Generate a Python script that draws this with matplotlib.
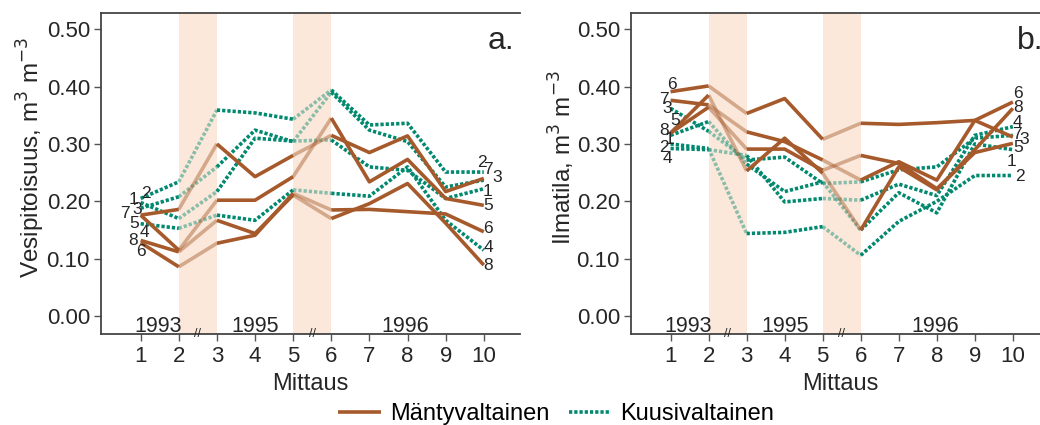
import matplotlib.pyplot as plt
import numpy as np

plt.rcParams['font.family'] = ['Liberation Sans', 'DejaVu Sans']

mittaus = np.arange(1, 11)
gaps = [(2, 3), (5, 6)]
years = ['1993', '1995', '1996']
year_x = [1.45, 4.0, 7.95]

# a. Vesipitoisuus (water content), by site
a_manty = {
    '7': [0.176, 0.186, 0.300, 0.243, 0.280, 0.315, 0.285, 0.314, 0.217, 0.240],
    '5': [0.176, 0.115, 0.202, 0.202, 0.243, 0.345, 0.234, 0.273, 0.205, 0.193],
    '6': [0.128, 0.086, 0.127, 0.141, 0.214, 0.185, 0.186, 0.182, 0.178, 0.147],
    '8': [0.132, 0.112, 0.167, 0.144, 0.211, 0.170, 0.196, 0.231, 0.162, 0.089],
}
a_kuusi = {
    '2': [0.205, 0.234, 0.359, 0.354, 0.343, 0.394, 0.333, 0.336, 0.251, 0.251],
    '3': [0.188, 0.208, 0.260, 0.324, 0.304, 0.390, 0.324, 0.304, 0.225, 0.237],
    '1': [0.198, 0.170, 0.217, 0.310, 0.305, 0.307, 0.260, 0.254, 0.205, 0.222],
    '4': [0.161, 0.153, 0.176, 0.167, 0.220, 0.214, 0.209, 0.260, 0.167, 0.115],
}

# b. Ilmatila (air-filled porosity), by site
b_manty = {
    '6': [0.391, 0.401, 0.353, 0.379, 0.308, 0.336, 0.334, 0.337, 0.341, 0.373],
    '7': [0.376, 0.368, 0.321, 0.304, 0.272, 0.237, 0.269, 0.237, 0.341, 0.312],
    '5': [0.319, 0.364, 0.291, 0.291, 0.254, 0.280, 0.266, 0.222, 0.285, 0.301],
    '8': [0.319, 0.385, 0.253, 0.310, 0.249, 0.150, 0.260, 0.220, 0.290, 0.362],
}
b_kuusi = {
    '3': [0.362, 0.322, 0.272, 0.277, 0.231, 0.234, 0.255, 0.260, 0.310, 0.315],
    '4': [0.292, 0.290, 0.280, 0.199, 0.205, 0.202, 0.230, 0.210, 0.315, 0.330],
    '1': [0.315, 0.339, 0.265, 0.217, 0.234, 0.150, 0.215, 0.180, 0.300, 0.290],
    '2': [0.300, 0.292, 0.144, 0.146, 0.156, 0.106, 0.165, 0.200, 0.245, 0.245],
}

# site number labels at line ends (label, x, y)
a_labels = [('1', 0.82, 0.204), ('2', 1.13, 0.214), ('7', 0.58, 0.178), ('3', 0.90, 0.185),
            ('5', 0.82, 0.162), ('4', 1.10, 0.146), ('8', 0.79, 0.132), ('6', 1.0, 0.113),
            ('2', 9.96, 0.267), ('7', 10.11, 0.256), ('3', 10.35, 0.242), ('1', 10.11, 0.218),
            ('5', 10.11, 0.192), ('6', 10.11, 0.152), ('4', 10.11, 0.120), ('8', 10.11, 0.089)]
b_labels = [('6', 1.03, 0.404), ('7', 0.82, 0.378), ('3', 0.92, 0.361), ('5', 1.13, 0.340),
            ('8', 0.82, 0.324), ('1', 0.97, 0.307), ('2', 0.82, 0.293), ('4', 0.92, 0.274),
            ('6', 10.13, 0.387), ('8', 10.13, 0.364), ('4', 10.13, 0.338), ('7', 10.10, 0.317),
            ('3', 10.31, 0.307), ('5', 10.13, 0.293), ('1', 9.97, 0.270), ('2', 10.18, 0.244)]

BROWN = '#a65a2b'
GREEN = '#00896f'
SHADE = '#fbe8da'
TXT = '#262626'
SOLID = dict(lw=2.6, ls='-', solid_capstyle='butt')
DOTTED = dict(lw=2.6, ls=(0, (0.9, 0.55)))


def draw_series(ax, y, color, style):
    y = np.asarray(y)
    # dark within a year, faded across the gaps between years
    for i0, i1 in [(0, 2), (2, 5), (5, 10)]:
        ax.plot(mittaus[i0:i1], y[i0:i1], color=color, zorder=3, **style)
    for g0, g1 in gaps:
        ax.plot(mittaus[g0 - 1:g1], y[g0 - 1:g1], color=color, alpha=0.45, zorder=2, **style)


def panel(ax, manty, kuusi, labels, ylabel, tag):
    for g0, g1 in gaps:
        ax.axvspan(g0, g1, color=SHADE, lw=0, zorder=0)
    for y in kuusi.values():
        draw_series(ax, y, GREEN, DOTTED)
    for y in manty.values():
        draw_series(ax, y, BROWN, SOLID)
    for lab, x, y in labels:
        ax.text(x, y, lab, fontsize=12.5, color=TXT, ha='center', va='center', zorder=4)
    for yr, x in zip(years, year_x):
        ax.text(x, -0.027, yr, fontsize=15.5, color=TXT, ha='center', va='baseline')
    for g0, g1 in gaps:
        ax.text((g0 + g1) / 2, -0.031, '//', fontsize=9, color=TXT, ha='center', va='center')
    ax.text(10.45, 0.48, tag, fontsize=23, color=TXT, ha='center', va='center')

    ax.set_xlim(-0.04, 10.95)
    ax.set_ylim(-0.031, 0.528)
    ax.set_xticks(mittaus)
    ax.set_yticks(np.arange(0, 0.51, 0.1))
    ax.set_yticklabels([f'{v:.2f}' for v in np.arange(0, 0.51, 0.1)])
    ax.tick_params(labelsize=16, length=5, width=1, pad=3, colors='#555555', labelcolor=TXT)
    ax.tick_params(axis='x', pad=4)
    ax.spines['right'].set_visible(False)
    for s in ['left', 'bottom', 'top']:
        ax.spines[s].set_color('#444444')
        ax.spines[s].set_linewidth(1.3)
    ax.set_xlabel('Mittaus', fontsize=17, color=TXT, labelpad=4)
    ax.set_ylabel(ylabel, fontsize=17.5, color=TXT)
    ax.yaxis.set_label_coords(-0.13, 0.55)


fig = plt.figure(figsize=(10.4, 4.25), dpi=100)
ax_a = fig.add_axes([101 / 1040, 91 / 425, 419 / 1040, 321 / 425])
ax_b = fig.add_axes([631 / 1040, 91 / 425, 418 / 1040, 321 / 425])

panel(ax_a, a_manty, a_kuusi, a_labels, 'Vesipitoisuus, m$^3$ m$^{-3}$', 'a.')
panel(ax_b, b_manty, b_kuusi, b_labels, 'Ilmatila, m$^3$ m$^{-3}$', 'b.')

handles = [plt.Line2D([], [], color=BROWN, **SOLID),
           plt.Line2D([], [], color=GREEN, **DOTTED)]
fig.legend(handles, ['Mäntyvaltainen', 'Kuusivaltainen'], loc='lower center',
           bbox_to_anchor=(0.535, -0.05), ncol=2, frameon=False, fontsize=17,
           handlelength=1.8, handletextpad=0.4, columnspacing=0.8)

fig.savefig('out.png', dpi=100)
